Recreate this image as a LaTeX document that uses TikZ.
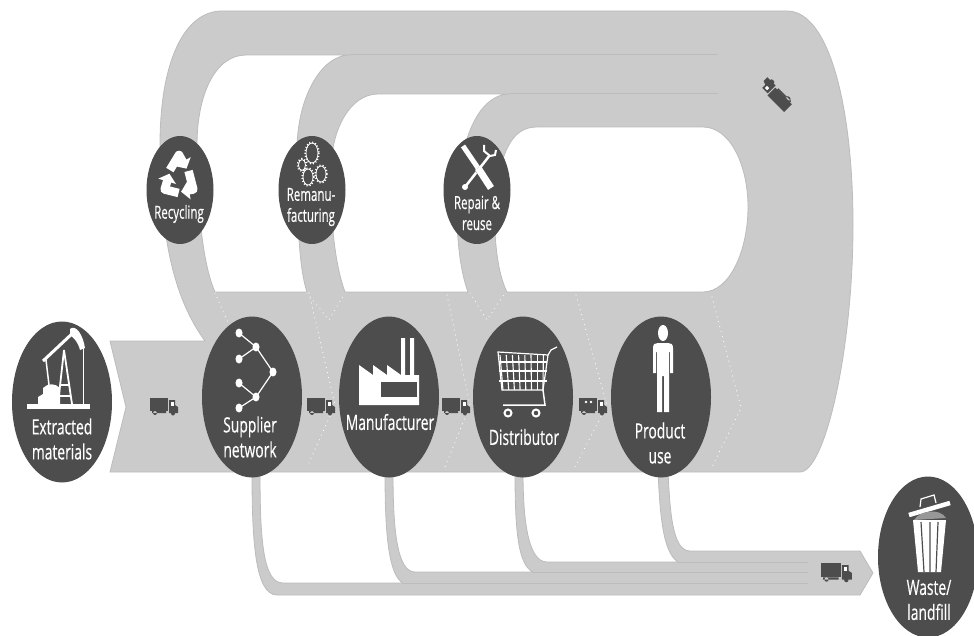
\documentclass[tikz,border=0pt]{standalone}
\usepackage{fontspec}
\setmainfont{Open Sans}
\newfontfamily\hubfont[FakeBold=0.5]{Open Sans}
\usepackage{tikz}
\usetikzlibrary{calc,arrows.meta,shapes.geometric}
\definecolor{myband}{RGB}{203,203,203}
\definecolor{myedge}{RGB}{188,188,188}
\definecolor{myhub}{RGB}{77,77,77}
\tikzset{
  band/.style={fill=myband,draw=myedge,line width=0.8pt},
  seam/.style={draw=myedge,line width=1pt},
  stage/.style={ellipse,fill=myhub,minimum width=100pt,minimum height=161pt,inner sep=0pt},
  loopstage/.style={ellipse,fill=myhub,minimum width=67pt,minimum height=108pt,inner sep=0pt},
  stagetext/.style={text=white,align=center,xscale=.66,inner sep=0pt,font=\hubfont\fontsize{21}{25}\selectfont},
  looptext/.style={text=white,align=center,xscale=.64,inner sep=0pt,font=\hubfont\fontsize{18}{21}\selectfont},
  chevron/.style={draw=white,line width=1.1pt,line cap=round,dash pattern=on 0.1pt off 5pt},
  lorry/.pic={
    \fill[myhub] (0,0) rectangle (18,13);
    \fill[myhub] (19,2) -- (25,2) -- (25,7) -- (28,9) -- (28,15) -- (19,15) -- cycle;
    \fill[white] (21,4) rectangle (23.5,7.5);
    \fill[myhub] (2,13) rectangle (16,15) (5,15) circle (2) (23,15.5) circle (2);
  }
}
\begin{document}
\begin{tikzpicture}[x=1pt,y=-1pt]
  \useasboundingbox (0,0) rectangle (974,636);

  % loops and main flow
  \path[band,even odd rule]
    (110,341) -- (205,341) .. controls (175,300) and (160,240) .. (160,145)
    .. controls (160,60) and (185,11) .. (222,11) -- (787,11)
    .. controls (830,11) and (853,110) .. (853,225)
    .. controls (853,350) and (825,472) .. (800,472) -- (110,472) -- (126,407) -- cycle
    (246,55) .. controls (215,55) and (197,95) .. (197,145) .. controls (197,210) and (203,265) .. (215,292)
    -- (307,292) .. controls (298,265) and (297,210) .. (297,150) .. controls (297,100) and (320,55) .. (350,55) -- cycle
    (378,94) .. controls (350,94) and (331,130) .. (331,170) .. controls (330,220) and (335,265) .. (345,292)
    -- (468,292) .. controls (460,270) and (457,240) .. (457,210) .. controls (457,150) and (475,94) .. (510,94) -- cycle
    (537,127) .. controls (515,127) and (503,145) .. (496,190) .. controls (492,235) and (498,275) .. (507,292)
    -- (703,292) .. controls (730,292) and (748,250) .. (748,207) .. controls (748,165) and (730,127) .. (703,127) -- cycle;
  \draw[seam] (350,55) -- (718,55);
  \draw[seam] (510,94) -- (718,94);

  % way to the landfill
  \path[band]
    (252,472) .. controls (252,540) and (255,595) .. (277,595) -- (860,595) -- (873,573) -- (860,551) -- (690,551)
    .. controls (672,551) and (670,510) .. (668,472) -- (658,472) .. controls (660,510) and (662,552) .. (678,562)
    -- (547,562) .. controls (528,562) and (523,520) .. (523,472) -- (515,472) .. controls (515,530) and (518,565) .. (533,572)
    -- (415,572) .. controls (397,572) and (393,530) .. (393,472) -- (385,472) .. controls (385,530) and (388,575) .. (403,583)
    -- (283,583) .. controls (263,583) and (260,540) .. (260,472) -- cycle;
  \draw[seam] (678,562) -- (808,562);
  \draw[seam] (533,572) -- (808,572);
  \draw[seam] (403,583) -- (808,583);

  % dotted stage borders
  \draw[chevron] (215,293) -- (240,350);
  \draw[chevron] (309,293) -- (335,405) -- (307,467);
  \draw[chevron] (307,293) -- (329,320) -- (345,293);
  \draw[chevron] (447,295) -- (470,405) -- (445,467);
  \draw[chevron] (470,293) -- (487,320) -- (505,293);
  \draw[chevron] (576,295) -- (607,405) -- (575,467);
  \draw[chevron] (712,297) -- (741,408) -- (712,467);

  % lorries
  \pic at (150,398) {lorry};
  \pic at (307,398) {lorry};
  \pic at (442,398) {lorry};
  \pic at (579,398) {lorry};
  \fill[white] (586,402) circle (1.3) (591,402) circle (1.3);
  \pic[scale=1.1] at (821,563) {lorry};
  \pic[rotate=135,xscale=1.3,yscale=.85] at (784,112) {lorry};

  % stages
  \node[stage] (extracted) at (62,402) {};
  \node[stage] (supplier) at (252,397) {};
  \node[stage] (manufacturer) at (389,397) {};
  \node[stage] (distributor) at (523,397) {};
  \node[stage] (product) at (661,397) {};
  \node[stage] (waste) at (928,557) {};
  \node[loopstage] (recycling) at (180,190) {};
  \node[loopstage] (remanu) at (312,190) {};
  \node[loopstage] (repair) at (477,190) {};

  \node[stagetext] (extractedtext) at (62,439) {Extracted\\materials};
  \node[stagetext] (suppliertext) at (250,437) {Supplier\\network};
  \node[stagetext] (manufacturertext) at (390,422) {Manufacturer};
  \node[stagetext] (distributortext) at (524,437) {Distributor};
  \node[stagetext] (producttext) at (660,443) {Product\\use};
  \node[stagetext] (wastetext) at (929,600) {Waste/\\landfill};
  \node[looptext] (recyclingtext) at (179,214) {Recycling};
  \node[looptext] (remanutext) at (311,207) {Remanu-\\facturing};
  \node[looptext] (repairtext) at (477,213) {Repair \&\\reuse};

  % pump
  \fill[white] (27,404) rectangle (90,409);
  \draw[white,line width=3pt] (43,361) -- (75,331);
  \fill[white] (70,329) .. controls (76,324) and (83,335) .. (85,348) -- (80,350) .. controls (78,342) and (74,338) .. (70,335) -- cycle;
  \draw[white,line width=1.2pt] (83.5,345) -- (83.5,404);
  \draw[white,line width=1.8pt] (64,350) -- (58,404) (64,350) -- (72,404) (60,385) -- (70,385) (59,396) -- (71,396);
  \draw[white,line width=1.5pt] (46,360) -- (49,385);
  \fill[white] (38,404) -- (38,397) -- (43,394) -- (43,388) .. controls (48,383) and (55,383) .. (60,388) -- (60,404) -- cycle;

  % network
  \draw[white,line width=1.2pt] (239,333) -- (256,347) -- (273,372) -- (256,397) -- (239,383) (239,359) -- (256,347) (239,408) -- (256,397);
  \foreach \px/\py in {239/333,256/347,239/359,273/372,239/383,256/397,239/408}
    \fill[white] (\px,\py) ellipse (3.5 and 4.5);

  % factory
  \fill[white] (359,365) -- (373,375) -- (373,365) -- (387,375) -- (387,365) -- (401,375) -- (401,338) -- (405,338) -- (405,375)
    -- (410,375) -- (410,338) -- (414,338) -- (414,375) -- (419,375) -- (419,405) -- (359,405) -- cycle;
  \fill[myhub] (381,382) rectangle (417,397);

  % cart
  \draw[white,line width=1.2pt] (498,352) -- (502,390) -- (543,390) -- (548,355) -- cycle;
  \foreach \gx in {0,1,...,7}
    \draw[white,line width=1.1pt] ({500+\gx*6.2},355) -- ({503+\gx*5.7},390);
  \foreach \gy in {362,371,381}
    \draw[white,line width=1.1pt] (499,\gy) -- (547,\gy);
  \draw[white,line width=1.2pt] (548,355) -- (551,350) -- (557,347);
  \draw[white,line width=1.5pt] (543,390) -- (545,405) -- (503,405);
  \draw[white,line width=2pt] (508,413) circle (3.5) (536,413) circle (3.5);

  % person
  \fill[white] (663,333) ellipse (5 and 8);
  \fill[white] (653,373) -- (653,348) .. controls (653,344) and (655,343) .. (658,343) -- (668,343) .. controls (671,343) and (673,344) .. (673,348)
    -- (673,373) -- (670,373) -- (670,352) -- (669,352) -- (669,412) -- (664,412) -- (664,376) -- (662,376) -- (662,412) -- (657,412) -- (657,352) -- (656,352) -- (656,373) -- cycle;

  % recycling
  \begin{scope}[shift={(179,178)},xscale=.72]
    \foreach \a in {270,30,150}
      \draw[white,line width=8.5pt,line join=round,-{Triangle[length=8pt,width=18pt]}] (\a-58:15) -- (\a:23) -- (\a+48:14);
  \end{scope}

  % gears
  \foreach \gx/\gy/\grx/\gry in {312/153/6/10,302/165/3.5/5.5,308/177/5/8,321/174/5/8}{
    \draw[white,line width=.8pt] (\gx,\gy) ellipse ({\grx} and {\gry});
    \draw[white,line width=1.8pt,dash pattern=on 1pt off 2pt] (\gx,\gy) ellipse ({\grx+.8} and {\gry+.8});
  }

  % tools
  \draw[white,line width=2.5pt] (490,155) -- (465,187);
  \fill[white] (465,187) circle (3);
  \draw[white,line width=2pt] (490,156) -- (484,151) -- (484,145) (490,156) -- (495,155) -- (496,150);
  \draw[myhub,line width=6pt] (473,162) -- (484,178);
  \draw[white,line width=5pt] (463,146) -- (478,168);
  \draw[white,line width=7pt] (478,168) -- (491,188);

  % bin
  \draw[white,line width=1.2pt] (920,507) -- (921,499) -- (934,495) -- (936,503);
  \draw[white,line width=4.5pt] (909,515) -- (950,503);
  \fill[myband!60!myhub] (914,520) .. controls (920,510) and (940,508) .. (946,518) -- cycle;
  \fill[white] (913,520) -- (946,520) -- (941,572) -- (918,572) -- cycle;
  \draw[myhub,line width=1.2pt] (921,522) -- (924,572) (930,522) -- (930,572) (938,522) -- (936,572);
\end{tikzpicture}
\end{document}
